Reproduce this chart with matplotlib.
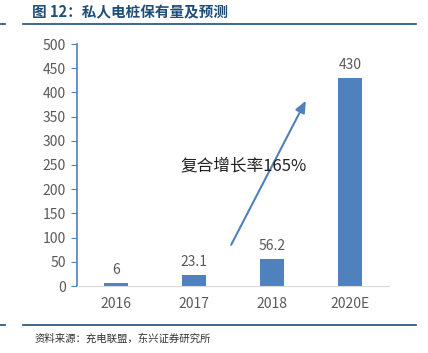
import matplotlib.pyplot as plt
from matplotlib.lines import Line2D

plt.rcParams['font.family'] = ['Noto Sans CJK SC', 'DejaVu Sans']

years = ["2016", "2017", "2018", "2020E"]
values = [6, 23.1, 56.2, 430]
value_labels = ["6", "23.1", "56.2", "430"]
y_ticks = [0, 50, 100, 150, 200, 250, 300, 350, 400, 450, 500]

W, H = 428, 353
fig = plt.figure(figsize=(W / 100, H / 100), dpi=100)

# axes placed in pixel coordinates
x0, x1, y_top, y_bot = 77, 389, 44, 286
ax = fig.add_axes([x0 / W, 1 - y_bot / H, (x1 - x0) / W, (y_bot - y_top) / H])

bar_color = "#4F81BD"
text_gray = "#595959"

xs = range(len(years))
ax.bar(xs, values, width=0.31, color=bar_color)
for x, v, lab in zip(xs, values, value_labels):
    ax.text(x, v + 12, lab, ha="center", va="bottom", fontsize=10, color=text_gray)

ax.set_xlim(-0.5, len(years) - 0.5)
ax.set_ylim(0, 500)
ax.set_yticks(y_ticks)
ax.set_xticks(list(xs))
ax.set_xticklabels(years)
ax.tick_params(axis="y", length=4, color=bar_color, labelsize=10, labelcolor=text_gray, pad=4)
ax.tick_params(axis="x", length=0, labelsize=10, labelcolor=text_gray, pad=8)
for s in ["top", "right"]:
    ax.spines[s].set_visible(False)
ax.spines["left"].set_color(bar_color)
ax.spines["left"].set_linewidth(1.2)
ax.spines["bottom"].set_color("#D9D9D9")

# growth arrow
ax.annotate("", xy=(2.45, 388), xytext=(1.46, 80),
            arrowprops=dict(arrowstyle="-|>,head_length=0.7,head_width=0.3",
                            color=bar_color, lw=1.5))
ax.text(1.63, 248, "复合增长率165%", ha="center", va="center", fontsize=12, color="#222222")

# header and footer
fig.text(32 / W, 1 - 12 / H, "图 12：私人电桩保有量及预测", fontsize=10.5, fontweight="bold",
         color="#1F4E79", ha="left", va="center")
fig.add_artist(Line2D([23 / W, 416 / W], [1 - 24 / H] * 2, color="#1F4E79", lw=1.2))
fig.add_artist(Line2D([0, 5 / W], [1 - 24 / H] * 2, color="#1F4E79", lw=1.2))
fig.add_artist(Line2D([23 / W, 416 / W], [1 - 325 / H] * 2, color="#1F4E79", lw=1.2))
fig.add_artist(Line2D([0, 5 / W], [1 - 325 / H] * 2, color="#1F4E79", lw=1.2))
fig.text(35 / W, 1 - 338 / H, "资料来源：充电联盟，东兴证券研究所", fontsize=7.5, style="italic",
         color="#333333", ha="left", va="center")

fig.savefig("out.png", dpi=100)
